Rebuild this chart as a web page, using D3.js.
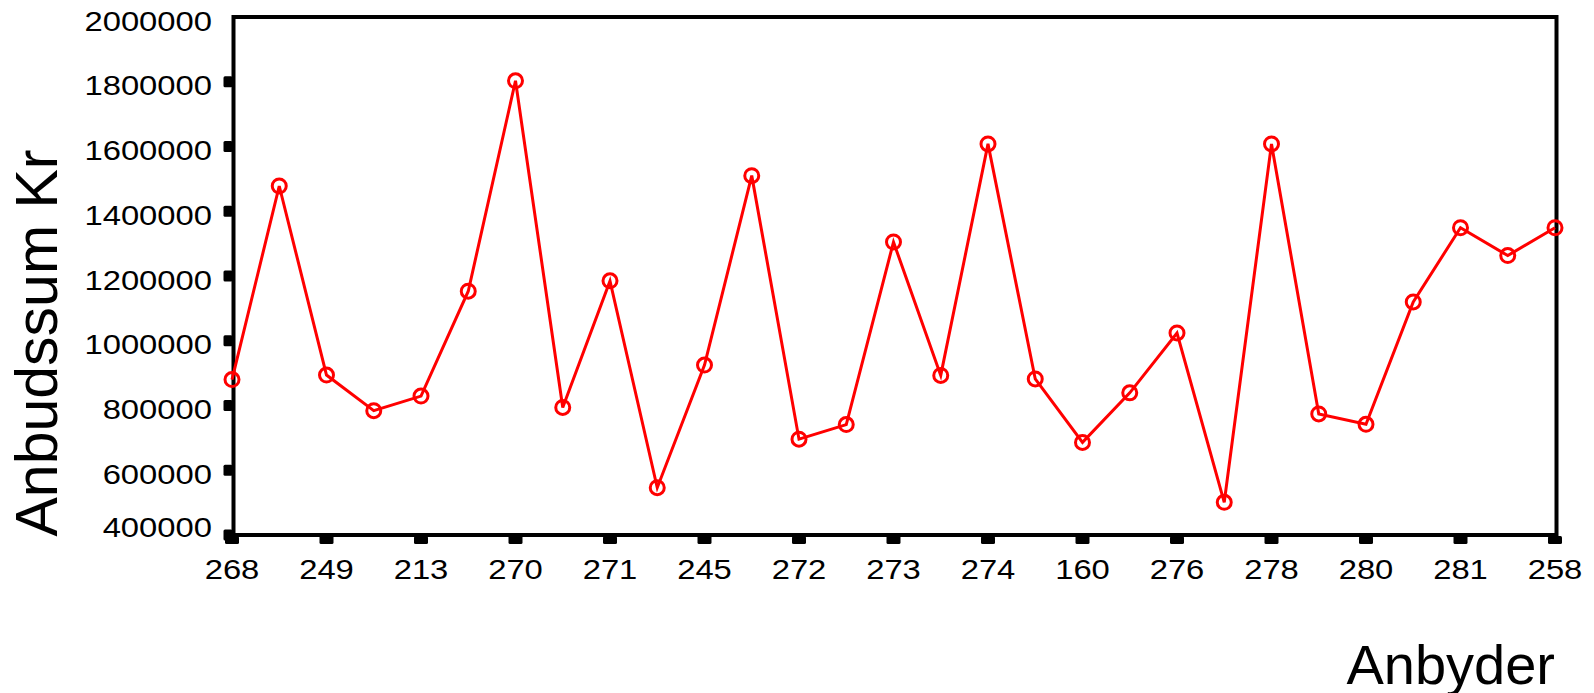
<!DOCTYPE html>
<html>
<head>
<meta charset="utf-8">
<script src="https://cdn.jsdelivr.net/npm/d3@7"></script>
<style>
  html, body { margin: 0; padding: 0; background: #fff; }
  svg { display: block; font-family: "Liberation Sans", Arial, sans-serif; }
</style>
</head>
<body>
<svg id="chart" width="1594" height="693"></svg>
<script>
// Categories (Anbyder); only every other category is labelled in the original chart
const anbyderLabels = ["268", "", "249", "", "213", "", "270", "", "271", "", "245", "", "272", "",
  "273", "", "274", "", "160", "", "276", "", "278", "", "280", "", "281", "", "258"];
// Anbudssum Kr values
const anbudssum = [880000, 1478000, 894000, 784000, 829000, 1153000, 1803000, 794000, 1185000,
  546000, 925000, 1510000, 696000, 741000, 1305000, 893000, 1608000, 882000, 686000, 839000,
  1024000, 501000, 1608000, 774000, 742000, 1120000, 1349000, 1263000, 1349000];
const yTicks = [400000, 600000, 800000, 1000000, 1200000, 1400000, 1600000, 1800000, 2000000];

const svg = d3.select("#chart");
const frame = { left: 233.5, right: 1556.5, top: 17, bottom: 535 };

const x = d3.scalePoint()
  .domain(d3.range(anbudssum.length))
  .range([232, 1555]);
const y = d3.scaleLinear()
  .domain([400000, 2000000])
  .range([frame.bottom, frame.top]);

// tick marks on y (outside the left edge), except the top
svg.append("g").selectAll("rect")
  .data(yTicks.filter(d => d < 2000000))
  .join("rect")
  .attr("x", frame.left - 10)
  .attr("y", d => y(d) - 5.5)
  .attr("width", 9)
  .attr("height", 11)
  .attr("rx", 1.5)
  .attr("fill", "#000");

// y labels
svg.append("g").selectAll("text")
  .data(yTicks)
  .join("text")
  .attr("transform", d => `translate(212,${Math.min(y(d) + 4, 527)}) scale(1.15,1)`)
  .attr("text-anchor", "end")
  .attr("dominant-baseline", "central")
  .attr("font-size", 28.5)
  .attr("fill", "#000")
  .text(d => d3.format("d")(d));

// x tick marks + labels for labelled categories
const labelled = d3.range(anbyderLabels.length).filter(i => anbyderLabels[i] !== "");
svg.append("g").selectAll("rect")
  .data(labelled)
  .join("rect")
  .attr("x", i => x(i) - 7)
  .attr("y", frame.bottom + 1)
  .attr("width", 14)
  .attr("height", 8)
  .attr("rx", 1.5)
  .attr("fill", "#000");

svg.append("g").selectAll("text")
  .data(labelled)
  .join("text")
  .attr("transform", i => `translate(${x(i)},569) scale(1.15,1)`)
  .attr("text-anchor", "middle")
  .attr("dominant-baseline", "central")
  .attr("font-size", 28.5)
  .attr("fill", "#000")
  .text(i => anbyderLabels[i]);

// frame
svg.append("rect")
  .attr("x", frame.left)
  .attr("y", frame.top)
  .attr("width", frame.right - frame.left)
  .attr("height", frame.bottom - frame.top)
  .attr("fill", "none")
  .attr("stroke", "#000")
  .attr("stroke-width", 4);

// line
const line = d3.line().x((d, i) => x(i)).y(d => y(d));
svg.append("path")
  .datum(anbudssum)
  .attr("d", line)
  .attr("fill", "none")
  .attr("stroke", "#ff0000")
  .attr("stroke-width", 3)
  .attr("stroke-linejoin", "miter");

// markers
svg.append("g").selectAll("circle")
  .data(anbudssum)
  .join("circle")
  .attr("cx", (d, i) => x(i))
  .attr("cy", d => y(d))
  .attr("r", 7)
  .attr("fill", "none")
  .attr("stroke", "#ff0000")
  .attr("stroke-width", 3);

// axis titles
svg.append("text")
  .attr("transform", "translate(57,343) rotate(-90)")
  .attr("text-anchor", "middle")
  .attr("font-size", 59)
  .attr("fill", "#000")
  .text("Anbudssum Kr");

svg.append("text")
  .attr("x", 1555)
  .attr("y", 684)
  .attr("text-anchor", "end")
  .attr("font-size", 56)
  .attr("fill", "#000")
  .text("Anbyder");
</script>
</body>
</html>
